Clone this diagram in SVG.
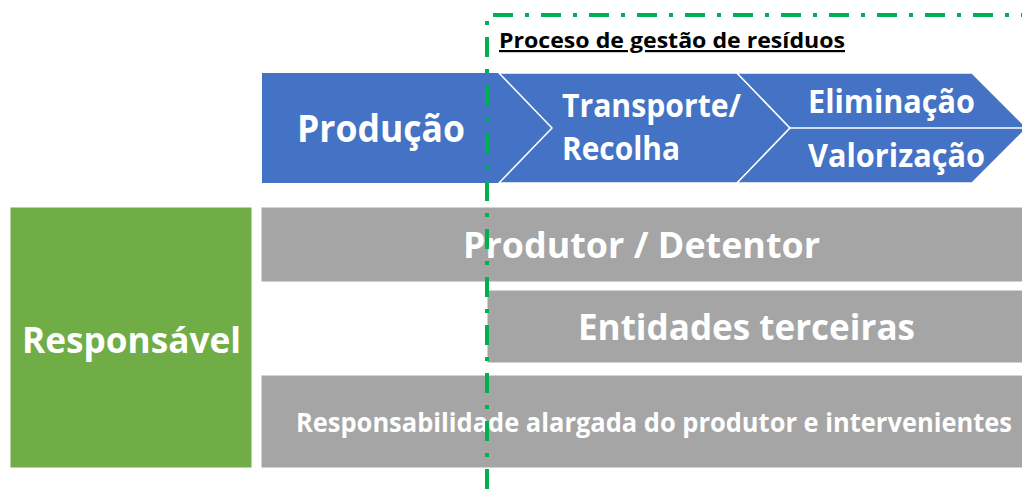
<svg xmlns="http://www.w3.org/2000/svg" width="1022" height="489" viewBox="0 0 1022 489">
<style>
.t{font-family:"Open Sans","Liberation Sans",sans-serif;font-weight:bold;fill:#fff}
.blue{fill:#4472C4;stroke:#fff;stroke-width:1.5}
.gray{fill:#A5A5A5;stroke:#fff;stroke-width:1}
.dash{stroke:#00B050;stroke-width:4;fill:none;stroke-dasharray:20 12 4 12}
</style>
<rect width="1022" height="489" fill="#fff"/>
<g id="producao">
<rect x="262" y="73" width="290" height="110" fill="#4472C4"/>
<text class="t" x="297" y="142" font-size="38" textLength="168" lengthAdjust="spacingAndGlyphs">Produção</text>
</g>
<g id="transporte">
<polygon class="blue" points="499,73 737,73 790,128 737,183 499,183 552,128"/>
<text class="t" x="562" y="117" font-size="32" textLength="179" lengthAdjust="spacingAndGlyphs">Transporte/</text>
<text class="t" x="562" y="160" font-size="32" textLength="118" lengthAdjust="spacingAndGlyphs">Recolha</text>
</g>
<g id="eliminacao">
<polygon class="blue" points="737,73 972,73 1027,128 972,183 737,183 790,128"/>
<line x1="790" y1="128" x2="1022" y2="128" stroke="#fff" stroke-width="1.5"/>
<text class="t" x="808" y="113" font-size="32" textLength="167" lengthAdjust="spacingAndGlyphs">Eliminação</text>
<text class="t" x="808" y="167" font-size="32" textLength="177" lengthAdjust="spacingAndGlyphs">Valorização</text>
</g>
<g id="responsavel">
<rect x="10" y="207" width="242" height="261" fill="#70AD47" stroke="#fff" stroke-width="1"/>
<text class="t" x="22" y="353" font-size="36" textLength="219" lengthAdjust="spacingAndGlyphs">Responsável</text>
</g>
<g id="produtor">
<rect class="gray" x="261" y="207" width="762" height="75"/>
<text class="t" x="463" y="258" font-size="36" textLength="357" lengthAdjust="spacingAndGlyphs">Produtor / Detentor</text>
</g>
<g id="entidades">
<rect class="gray" x="487" y="290" width="536" height="73"/>
<text class="t" x="578" y="340" font-size="36" textLength="337" lengthAdjust="spacingAndGlyphs">Entidades terceiras</text>
</g>
<g id="alargada">
<rect class="gray" x="261" y="375" width="762" height="93"/>
<text class="t" x="296" y="432" font-size="27" textLength="716" lengthAdjust="spacingAndGlyphs">Responsabilidade alargada do produtor e intervenientes</text>
</g>
<g id="connectors">
<path class="dash" d="M487,489 V15 H1022"/>
</g>
<g id="titulo">
<text x="499" y="48" font-family="'Open Sans','Liberation Sans',sans-serif" font-weight="bold" font-size="22" fill="#000" text-decoration="underline" textLength="346" lengthAdjust="spacingAndGlyphs">Proceso de gestão de resíduos</text>
</g>
</svg>
